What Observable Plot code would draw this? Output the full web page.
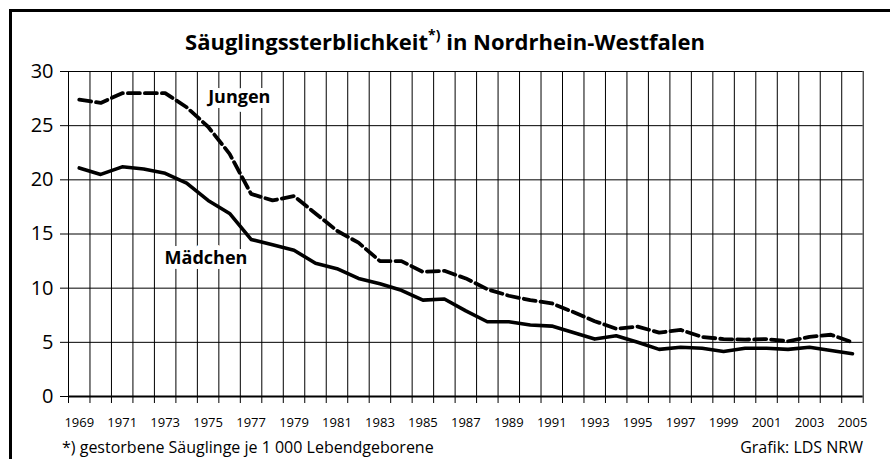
<!DOCTYPE html>
<html>
<head>
<meta charset="utf-8">
<script src="https://cdn.jsdelivr.net/npm/d3@7"></script>
<script src="https://cdn.jsdelivr.net/npm/@observablehq/plot@0.6"></script>
<style>
  html, body { margin: 0; padding: 0; background: #fff; }
  #wrap { position: relative; width: 890px; height: 459px; overflow: hidden; background: #fff; font-family: "Open Sans", "Noto Sans", sans-serif; color: #000; }
  #frame { position: absolute; left: 9px; top: 9px; width: 900px; height: 500px; border-left: 3px solid #000; border-top: 3px solid #000; }
  #title { position: absolute; left: 0; top: 24px; width: 890px; text-align: center; font-weight: 700; font-size: 22px; line-height: 26px; }
  #title sup { font-size: 14px; position: relative; top: -2px; }
  #chart { position: absolute; left: 0; top: 58px; }
  #caption { position: absolute; left: 0; top: 436px; width: 890px; height: 23px; font-size: 16px; line-height: 20px; }
  #caption .l { position: absolute; left: 62px; top: 1px; }
  #caption .r { position: absolute; right: 27px; top: 1px; }
</style>
</head>
<body>
<div id="wrap">
  <div id="frame"></div>
  <div id="title">Säuglingssterblichkeit<sup>*)</sup> in Nordrhein-Westfalen</div>
  <div id="chart"></div>
  <div id="caption"><span class="l">*) gestorbene Säuglinge je 1 000 Lebendgeborene</span><span class="r">Grafik: LDS NRW</span></div>
</div>
<script>
const years = [1969,1970,1971,1972,1973,1974,1975,1976,1977,1978,1979,1980,1981,1982,1983,1984,1985,1986,1987,1988,1989,1990,1991,1992,1993,1994,1995,1996,1997,1998,1999,2000,2001,2002,2003,2004,2005];
const jungen = [27.4,27.1,28.0,28.0,28.0,26.7,24.9,22.4,18.7,18.1,18.5,16.9,15.3,14.2,12.5,12.5,11.5,11.6,10.9,9.9,9.3,8.9,8.6,7.8,6.95,6.25,6.45,5.9,6.15,5.5,5.3,5.25,5.3,5.1,5.5,5.7,5.0];
const maedchen = [21.1,20.5,21.2,21.0,20.6,19.7,18.1,16.9,14.5,14.0,13.5,12.3,11.8,10.9,10.4,9.8,8.9,9.0,7.9,6.9,6.9,6.6,6.5,5.9,5.3,5.6,5.0,4.35,4.55,4.45,4.15,4.45,4.45,4.35,4.55,4.25,3.95];
const xTickLabels = [1969,1971,1973,1975,1977,1979,1981,1983,1985,1987,1989,1991,1993,1995,1997,1999,2001,2003,2005];
const yTicks = [0,5,10,15,20,25,30];
const seriesLabels = [
  {name: "Jungen", year: 1976.45, value: 27.6},
  {name: "Mädchen", year: 1974.9, value: 12.8}
];

const jungenRows = years.map((year, i) => ({year, value: jungen[i]}));
const maedchenRows = years.map((year, i) => ({year, value: maedchen[i]}));
const edges = years.map(y => y - 0.5).concat([years[years.length - 1] + 0.5]);

const chart = Plot.plot({
  width: 890,
  height: 378,
  marginLeft: 68,
  marginRight: 27.3,
  marginTop: 13,
  marginBottom: 40,
  style: {fontFamily: '"Open Sans", "Noto Sans", sans-serif', color: "#000", background: "transparent", overflow: "visible"},
  x: {domain: [edges[0], edges[edges.length - 1]]},
  y: {domain: [0, 30]},
  marks: [
    Plot.ruleX(edges, {stroke: "#000", strokeWidth: 1}),
    Plot.ruleY(yTicks.filter(d => d > 0), {stroke: "#000", strokeWidth: 1}),
    Plot.axisY(yTicks, {anchor: "left", tickSize: 8, tickPadding: 7, fontSize: 20, label: null, tickFormat: d => String(d)}),
    Plot.axisX(edges, {anchor: "bottom", tickSize: 7, label: null, tickFormat: () => ""}),
    Plot.axisX(xTickLabels, {anchor: "bottom", tickSize: 0, tickPadding: 21, fontSize: 13, label: null, tickFormat: d => String(d)}),
    Plot.ruleY([0], {stroke: "#000", strokeWidth: 2}),
    Plot.text(seriesLabels, {x: "year", y: "value", text: "name", fontSize: 18, fontWeight: "bold", fill: "#000", stroke: "#fff", strokeWidth: 10, strokeLinejoin: "round"}),
    Plot.lineY(maedchenRows, {x: "year", y: "value", stroke: "#000", strokeWidth: 3.6, strokeLinejoin: "round"}),
    Plot.lineY(jungenRows, {x: "year", y: "value", stroke: "#000", strokeWidth: 3.8, strokeDasharray: "12,5", strokeLinejoin: "round"})
  ]
});
document.getElementById("chart").appendChild(chart);
</script>
</body>
</html>
